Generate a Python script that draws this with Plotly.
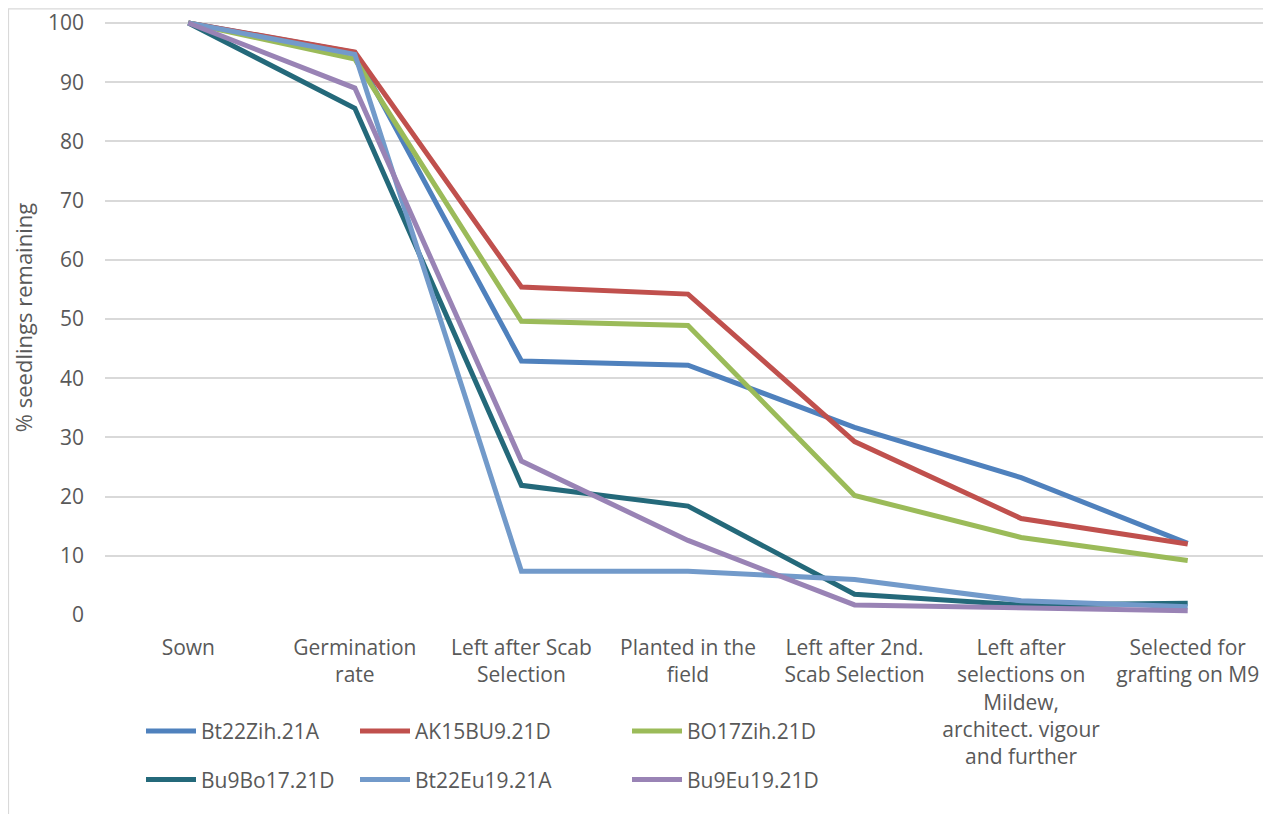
import plotly.graph_objects as go

categories = [
    "Sown",
    "Germination<br>rate",
    "Left after Scab<br>Selection",
    "Planted in the<br>field",
    "Left after 2nd.<br>Scab Selection",
    "Left after<br>selections on<br>Mildew,<br>architect. vigour<br>and further",
    "Selected for<br>grafting on M9",
]

bt22zih = [100, 95.0, 42.9, 42.2, 31.7, 23.2, 12.1]
ak15bu9 = [100, 95.1, 55.4, 54.2, 29.3, 16.3, 12.0]
bo17zih = [100, 93.9, 49.6, 48.9, 20.2, 13.1, 9.2]
bu9bo17 = [100, 85.6, 21.9, 18.4, 3.5, 1.7, 2.0]
bt22eu19 = [100, 94.7, 7.4, 7.4, 6.0, 2.4, 1.4]
bu9eu19 = [100, 89.0, 26.0, 12.6, 1.7, 1.1, 0.7]

series_names = ["Bt22Zih.21A", "AK15BU9.21D", "BO17Zih.21D",
                "Bu9Bo17.21D", "Bt22Eu19.21A", "Bu9Eu19.21D"]
series_values = [bt22zih, ak15bu9, bo17zih, bu9bo17, bt22eu19, bu9eu19]
colors = ["#4F81BD", "#C0504D", "#9BBB59", "#24697A", "#729ACA", "#9983B5"]
legend_ids = ["legend", "legend2", "legend3", "legend", "legend2", "legend3"]

FONT = "Open Sans"
TXT = "#595959"
FS = 21

# page body has an 8px margin
OFF = 8
W, H = 1263, 806
L, R, T, B = 97, 0, 11.7, 199
pw = W - L - R
ph = H - T - B

def px_x(p):
    return (p - OFF - L) / pw

def px_y(p):
    return (H - B - (p - OFF)) / ph

fig = go.Figure()
for name, vals, col, lg in zip(series_names, series_values, colors, legend_ids):
    fig.add_trace(go.Scatter(
        x=categories, y=vals, name=name, mode="lines",
        line=dict(color=col, width=5), legend=lg, legendgroup=name,
    ))

legend_common = dict(
    orientation="v", xanchor="left", yanchor="top",
    font=dict(family=FONT, size=FS, color=TXT),
    bgcolor="rgba(0,0,0,0)", itemwidth=50,
    traceorder="grouped", tracegroupgap=18, itemsizing="constant",
)

fig.update_layout(
    width=W, height=H,
    margin=dict(l=L, r=R, t=T, b=B, autoexpand=False),
    paper_bgcolor="white", plot_bgcolor="white",
    font=dict(family=FONT, size=FS, color=TXT),
    showlegend=True,
    legend=dict(x=px_x(141), y=px_y(711), **legend_common),
    legend2=dict(x=px_x(355), y=px_y(711), **legend_common),
    legend3=dict(x=px_x(627), y=px_y(711), **legend_common),
    xaxis=dict(
        type="category", range=[-0.5, 6.5], automargin=False,
        showgrid=False, showline=False, ticks="",
        tickfont=dict(family=FONT, size=FS, color=TXT),
        ticklabelstandoff=18, tickangle=0,
    ),
    yaxis=dict(
        range=[0, 100.5], tickvals=[0, 10, 20, 30, 40, 50, 60, 70, 80, 90, 100],
        automargin=False,
        showgrid=True, gridcolor="#D9D9D9", gridwidth=1.5,
        zeroline=False, showline=False, ticks="",
        tickfont=dict(family=FONT, size=FS, color=TXT),
        ticklabelstandoff=20,
        title=dict(text="% seedlings remaining",
                   font=dict(family=FONT, size=22, color=TXT), standoff=14),
    ),
    shapes=[dict(
        type="rect", xref="paper", yref="paper",
        x0=px_x(8.5), x1=px_x(1290), y0=px_y(830), y1=px_y(8.5),
        line=dict(color="#D9D9D9", width=1.2), fillcolor="rgba(0,0,0,0)",
        layer="below",
    )],
)

fig.write_html("out.html")
